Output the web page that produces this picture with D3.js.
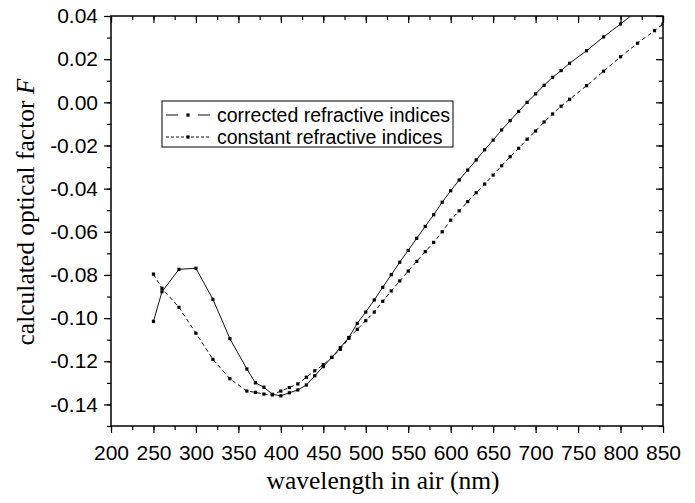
<!DOCTYPE html>
<html>
<head>
<meta charset="utf-8">
<script src="https://cdn.jsdelivr.net/npm/d3@7"></script>
<style>
  body { margin: 0; background: #fff; }
  .tick text { font-family: "Liberation Sans", Arial, sans-serif; font-size: 21px; fill: #000; }
  .axisTitle { font-family: "Liberation Serif", "Times New Roman", serif; font-size: 25.5px; fill: #000; }
  .legendText { font-family: "Liberation Sans", Arial, sans-serif; font-size: 19.5px; fill: #000; }
</style>
</head>
<body>
<div id="canvas"></div>
<script>
// define svg canvas
const W = 695, H = 503;
const margin = {top: 16, right: 32, bottom: 77, left: 111},
    width = W - margin.left - margin.right,
    height = H - margin.top - margin.bottom;

// data
const wavelengthCorrected = [250, 260, 280, 300, 320, 340, 360, 370, 380, 390, 400, 410, 420, 430, 440, 450, 460, 470, 480, 490,
    500, 510, 520, 530, 540, 550, 560, 570, 580, 590, 600, 610, 620, 630, 640, 650, 660, 670, 680, 690,
    700, 710, 720, 730, 740, 760, 780, 800, 820];
const factorCorrected = [-0.1015, -0.0878, -0.0774, -0.0769, -0.0913, -0.1095, -0.1236, -0.1300, -0.1320, -0.1353, -0.1360, -0.1346, -0.1333, -0.1310, -0.1267, -0.1225, -0.1182, -0.1137, -0.1090, -0.1024,
    -0.0972, -0.0916, -0.0857, -0.0799, -0.0741, -0.0686, -0.0630, -0.0575, -0.0521, -0.0463, -0.0410, -0.0360, -0.0314, -0.0267, -0.0220, -0.0175, -0.0128, -0.0085, -0.0042, 0.0000,
    0.0039, 0.0079, 0.0116, 0.0147, 0.0181, 0.0239, 0.0303, 0.0363, 0.0425];

const wavelengthConstant = [250, 260, 280, 300, 320, 340, 360, 370, 380, 390, 400, 410, 420, 430, 440, 450, 460, 470, 480, 490,
    500, 510, 520, 530, 540, 550, 560, 570, 580, 590, 600, 610, 620, 630, 640, 650, 660, 670, 680, 690,
    700, 710, 720, 730, 740, 760, 780, 800, 820, 840, 850];
const factorConstant = [-0.0796, -0.0862, -0.0950, -0.1070, -0.1191, -0.1281, -0.1338, -0.1344, -0.1352, -0.1356, -0.1338, -0.1322, -0.1305, -0.1274, -0.1244, -0.1216, -0.1182, -0.1145, -0.1094, -0.1052,
    -0.1012, -0.0972, -0.0922, -0.0874, -0.0828, -0.0782, -0.0737, -0.0692, -0.0649, -0.0600, -0.0546, -0.0503, -0.0460, -0.0419, -0.0379, -0.0337, -0.0294, -0.0252, -0.0213, -0.0171,
    -0.0133, -0.0091, -0.0054, -0.0018, 0.0014, 0.0077, 0.0144, 0.0211, 0.0274, 0.0332, 0.0363];

const xTicks = [200, 250, 300, 350, 400, 450, 500, 550, 600, 650, 700, 750, 800, 850];
const yTicks = [0.04, 0.02, 0.00, -0.02, -0.04, -0.06, -0.08, -0.10, -0.12, -0.14];
const seriesNames = ["corrected refractive indices", "constant refractive indices"];

const series = [
    {name: seriesNames[0], values: wavelengthCorrected.map((w, i) => ({w: w, f: factorCorrected[i]})), dash: null},
    {name: seriesNames[1], values: wavelengthConstant.map((w, i) => ({w: w, f: factorConstant[i]})), dash: "4,3"}
];

const svg = d3.select("#canvas")
    .append("svg")
    .attr("width", W)
    .attr("height", H),
visGroup = svg.append("g")
    .attr("transform", "translate(" + margin.left + "," + margin.top + ")");

// define scales
const x = d3.scaleLinear().domain([200, 850]).range([0, width]);
const y = d3.scaleLinear().domain([-0.15, 0.04]).range([height, 0]);

const xMinor = d3.range(200, 851, 25);
const yMinor = d3.range(-15, 5, 1).map(d => d / 100);

// minor ticks (outside on bottom/left, inside on top/right)
function tickOnly(axisFn, scale, values, size, transform) {
    const g = visGroup.append("g")
        .attr("transform", transform)
        .call(axisFn(scale).tickValues(values).tickSize(size).tickFormat(""));
    g.select(".domain").remove();
    g.selectAll("line").attr("stroke-width", 1.2);
}
tickOnly(d3.axisBottom, x, xMinor, 4, "translate(0," + height + ")");
tickOnly(d3.axisTop, x, xMinor, -4, "translate(0,0)");
tickOnly(d3.axisLeft, y, yMinor, 4, "translate(0,0)");
tickOnly(d3.axisRight, y, yMinor, -4, "translate(" + width + ",0)");
tickOnly(d3.axisTop, x, xTicks, -7, "translate(0,0)");
tickOnly(d3.axisRight, y, yTicks, -7, "translate(" + width + ",0)");

// major axes with labels
const xAxis = visGroup.append("g")
    .attr("transform", "translate(0," + height + ")")
    .call(d3.axisBottom(x).tickValues(xTicks).tickSize(7).tickPadding(12).tickFormat(d3.format("d")));
xAxis.select(".domain").remove();
xAxis.selectAll("line").attr("stroke-width", 1.2);

const yAxis = visGroup.append("g")
    .call(d3.axisLeft(y).tickValues(yTicks).tickSize(7).tickPadding(6));
yAxis.select(".domain").remove();
yAxis.selectAll("line").attr("stroke-width", 1.2);
yAxis.selectAll("text").text(d => d.toFixed(2));

// frame
visGroup.append("rect")
    .attr("x", 0).attr("y", 0)
    .attr("width", width).attr("height", height)
    .attr("fill", "none")
    .attr("stroke", "#000")
    .attr("stroke-width", 1.5);

// clip
visGroup.append("clipPath").attr("id", "clip")
    .append("rect").attr("width", width).attr("height", height);

const plot = visGroup.append("g").attr("clip-path", "url(#clip)");

const line = d3.line().x(d => x(d.w)).y(d => y(d.f));

series.forEach(s => {
    plot.append("path")
        .datum(s.values)
        .attr("fill", "none")
        .attr("stroke", "#111")
        .attr("stroke-width", 1)
        .attr("stroke-dasharray", s.dash)
        .attr("d", line);
    plot.selectAll(null)
        .data(s.values)
        .join("rect")
        .attr("x", d => x(d.w) - 1.6)
        .attr("y", d => y(d.f) - 1.6)
        .attr("width", 3.2)
        .attr("height", 3.2)
        .attr("fill", "#000");
});

// legend
const legend = visGroup.append("g")
    .attr("transform", "translate(" + (162 - margin.left) + "," + (101 - margin.top) + ")");
legend.append("rect")
    .attr("width", 291).attr("height", 46)
    .attr("fill", "#fff").attr("stroke", "#000").attr("stroke-width", 1);

series.forEach((s, i) => {
    const ly = 14 + i * 22;
    legend.append("line")
        .attr("x1", 4).attr("x2", 48)
        .attr("y1", ly).attr("y2", ly)
        .attr("stroke", "#111").attr("stroke-width", 1)
        .attr("stroke-dasharray", s.dash ? "3,2" : "12,20");
    legend.append("rect")
        .attr("x", 24.4).attr("y", ly - 1.6)
        .attr("width", 3.2).attr("height", 3.2)
        .attr("fill", "#000");
    legend.append("text")
        .attr("class", "legendText")
        .attr("x", 55).attr("y", ly)
        .attr("dy", "0.35em")
        .text(s.name);
});

// axis titles
svg.append("text")
    .attr("class", "axisTitle")
    .attr("x", 383)
    .attr("y", 489)
    .attr("text-anchor", "middle")
    .text("wavelength in air (nm)");

const yTitle = svg.append("text")
    .attr("class", "axisTitle")
    .attr("transform", "translate(34," + 212 + ") rotate(-90)")
    .attr("text-anchor", "middle");
yTitle.append("tspan").text("calculated optical factor ");
yTitle.append("tspan").attr("font-style", "italic").text("F");
</script>
</body>
</html>
